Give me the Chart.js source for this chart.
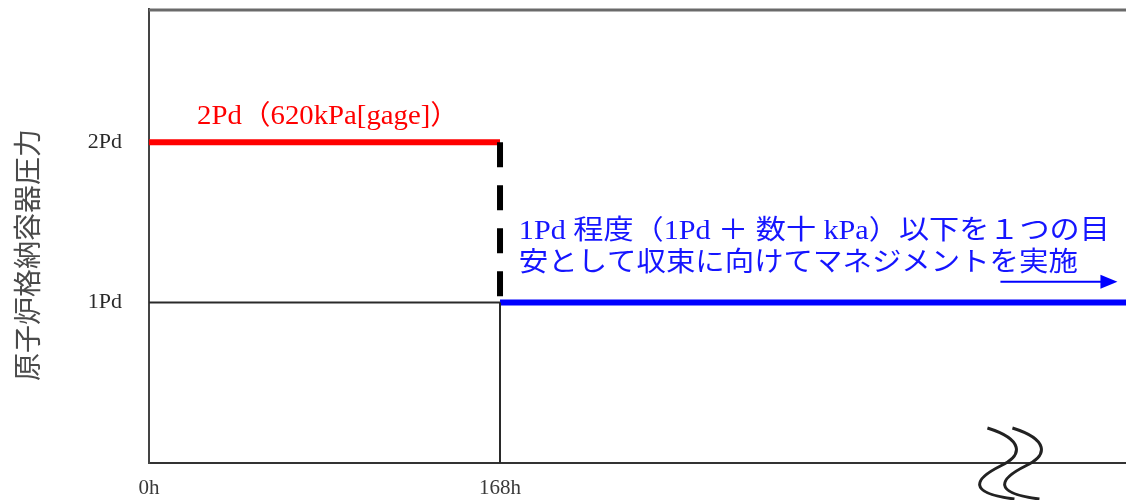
<!DOCTYPE html>
<html>
<head>
<meta charset="utf-8">
<script src="https://cdn.jsdelivr.net/npm/chart.js@4.4.1/dist/chart.umd.min.js"></script>
<style>
  html, body { margin: 0; padding: 0; background: #fff; overflow: hidden; }
  #caja { width: 1126px; height: 500px; overflow: hidden; }
</style>
</head>
<body>
<div id="caja"><canvas id="grafica" width="1140" height="500"></canvas></div>
<script>
// ejes
const horas = [0, 168];
const niveles = [1, 2];
const etiquetasX = ["0h", "168h"];
const etiquetasY = ["1Pd", "2Pd"];
const maxHoras = 474.3;
const maxPd = 2.83;

// tramos de la curva
const rojoHoras = [0, 168];
const rojoPd = [2, 2];
const cortesHoras = [168, 168];
const cortesPd = [2, 1];
const base1Horas = [0, 168];
const base1Pd = [1, 1];
const verticalHoras = [168, 168];
const verticalPd = [0, 1];
const azulHoras = [168, maxHoras];
const azulPd = [1, 1];

const tituloY = "原子炉格納容器圧力";
const textoRojo = "2Pd（620kPa[gage]）";
const textoAzul1 = "1Pd 程度（1Pd ＋ 数十 kPa）以下を１つの目";
const textoAzul2 = "安として収束に向けてマネジメントを実施";

const puntos = (xs, ys) => xs.map((v, i) => ({ x: v, y: ys[i] }));

const textoAjustado = (ctx, txt, x, y, ancho) => {
    const w = ctx.measureText(txt).width;
    ctx.save();
    ctx.translate(x, y);
    ctx.scale(ancho / w, 1);
    ctx.fillText(txt, 0, 0);
    ctx.restore();
};

const notas = {
    id: "notas",
    afterDatasetsDraw(chart) {
        const { ctx, chartArea, scales: { x, y } } = chart;
        ctx.save();

        // borde superior
        ctx.strokeStyle = "#6a6a6a";
        ctx.lineWidth = 3;
        ctx.beginPath();
        ctx.moveTo(chartArea.left, chartArea.top + 1);
        ctx.lineTo(chartArea.right, chartArea.top + 1);
        ctx.stroke();

        // texto rojo
        ctx.fillStyle = "#ff0000";
        ctx.textBaseline = "middle";
        ctx.font = "27px 'Liberation Serif', 'Noto Sans CJK JP'";
        textoAjustado(ctx, textoRojo, x.getPixelForValue(23), y.getPixelForValue(2.155), 262);

        // texto azul
        ctx.fillStyle = "#1515ff";
        ctx.font = "27px 'Liberation Serif', 'Noto Sans CJK JP'";
        textoAjustado(ctx, textoAzul1, x.getPixelForValue(177), y.getPixelForValue(1.44), 591);
        textoAjustado(ctx, textoAzul2, x.getPixelForValue(177), y.getPixelForValue(1.24), 559);

        // flecha
        const ax0 = x.getPixelForValue(407.5);
        const ax1 = x.getPixelForValue(463.5);
        const ay = y.getPixelForValue(1.13);
        ctx.strokeStyle = "#0000ff";
        ctx.fillStyle = "#0000ff";
        ctx.lineWidth = 2;
        ctx.beginPath();
        ctx.moveTo(ax0, ay);
        ctx.lineTo(ax1 - 14, ay);
        ctx.stroke();
        ctx.beginPath();
        ctx.moveTo(ax1, ay);
        ctx.lineTo(ax1 - 17, ay - 7);
        ctx.lineTo(ax1 - 17, ay + 7);
        ctx.closePath();
        ctx.fill();

        // marcas de corte del eje
        ctx.strokeStyle = "#222";
        ctx.lineWidth = 3;
        const yb = y.getPixelForValue(0);
        [0, 25].forEach(d => {
            const cx = x.getPixelForValue(407.5) + d;
            ctx.beginPath();
            ctx.moveTo(cx - 13, yb - 35);
            ctx.bezierCurveTo(cx + 22, yb - 24, cx + 24, yb - 8, cx, yb + 3);
            ctx.bezierCurveTo(cx - 26, yb + 16, cx - 34, yb + 30, cx + 14, yb + 36);
            ctx.stroke();
        });

        // titulo del eje Y
        ctx.fillStyle = "#4a4a4a";
        ctx.font = "28px 'Noto Sans CJK JP'";
        ctx.translate(27, 255);
        ctx.rotate(-Math.PI / 2);
        ctx.textBaseline = "middle";
        textoAjustado(ctx, tituloY, -126, 0, 252);
        ctx.restore();
    }
};

const linea = (datos, color, ancho, extra = {}) => ({
    data: datos,
    borderColor: color,
    borderWidth: ancho,
    borderCapStyle: "butt",
    pointRadius: 0,
    showLine: true,
    fill: false,
    ...extra
});

const grafDOM = document.querySelector("#grafica");

new Chart(grafDOM, {
    type: "scatter",
    data: {
        datasets: [
            linea(puntos(base1Horas, base1Pd), "#2a2a2a", 2),
            linea(puntos(verticalHoras, verticalPd), "#2a2a2a", 2),
            linea(puntos(cortesHoras, cortesPd), "#000", 6, { borderDash: [25, 18] }),
            linea(puntos(rojoHoras, rojoPd), "#ff0000", 6),
            linea(puntos(azulHoras, azulPd), "#0000ff", 6)
        ]
    },
    options: {
        responsive: false,
        animation: false,
        devicePixelRatio: 1,
        layout: { padding: { top: 9, right: 0, bottom: 0, left: 0 } },
        plugins: {
            legend: { display: false },
            tooltip: { enabled: false }
        },
        scales: {
            x: {
                type: "linear",
                min: 0,
                max: maxHoras,
                grid: { display: false, drawTicks: false },
                border: { display: true, color: "#333", width: 2 },
                afterBuildTicks: s => { s.ticks = horas.map(v => ({ value: v })); },
                afterFit: s => { s.height = 37; s.paddingLeft = 0; s.paddingRight = 0; },
                ticks: {
                    padding: 13,
                    color: "#3a3a3a",
                    font: { family: "'Liberation Serif'", size: 21 },
                    callback: v => etiquetasX[horas.indexOf(v)]
                }
            },
            y: {
                type: "linear",
                min: 0,
                max: maxPd,
                grid: { display: false, drawTicks: false },
                border: { display: true, color: "#444", width: 2 },
                afterBuildTicks: s => { s.ticks = niveles.map(v => ({ value: v })); },
                afterFit: s => { s.width = 149; s.paddingTop = 0; s.paddingBottom = 0; },
                ticks: {
                    padding: 27,
                    color: "#2a2a2a",
                    font: { family: "'Liberation Serif'", size: 22 },
                    callback: v => etiquetasY[niveles.indexOf(v)]
                }
            }
        }
    },
    plugins: [notas]
});
</script>
</body>
</html>
